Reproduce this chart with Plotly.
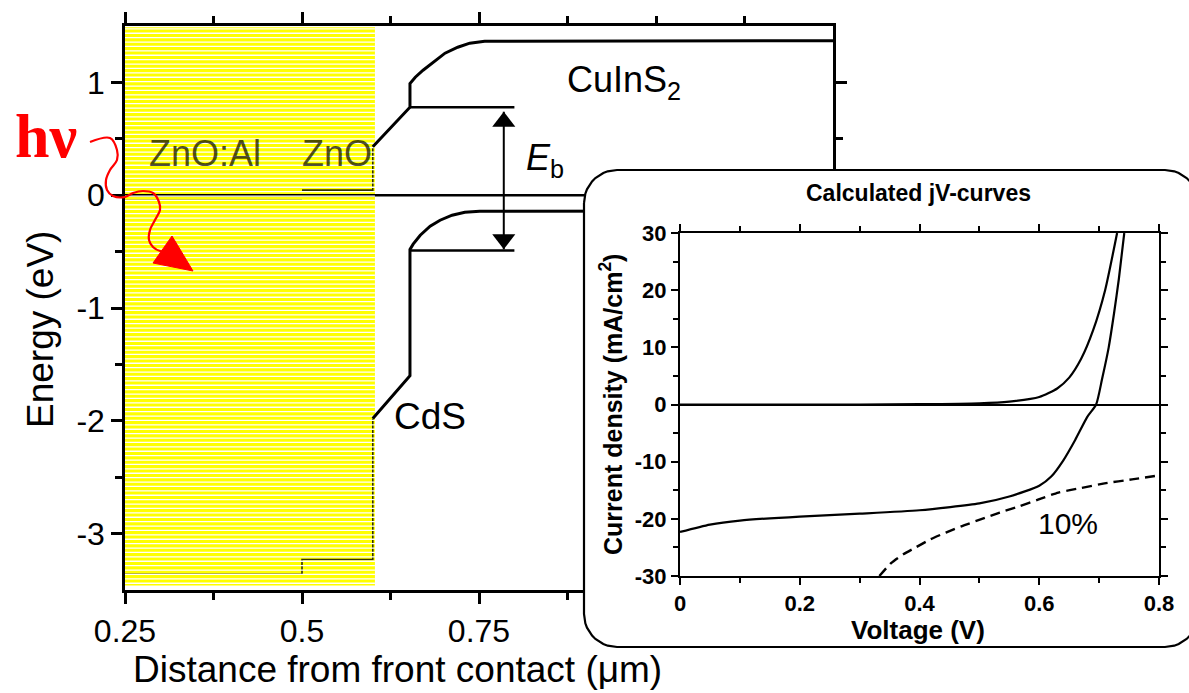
import numpy as np
import plotly.graph_objects as go

W, H = 1189, 693
FONT = "Liberation Sans, Arial, Helvetica, sans-serif"

# ---------------- band diagram (main plot) ----------------
x_range = [0.25, 1.25]
E_range = [-3.5, 1.5]
x_tick_vals = [0.25, 0.5, 0.75]
x_tick_text = ["0.25", "0.5", "0.75"]
x_minor_vals = [0.375, 0.625, 0.875, 1.0, 1.125]
E_tick_vals = [-3, -2, -1, 0, 1]
E_tick_text = ["-3", "-2", "-1", "0", "1"]
E_minor_vals = [-2.5, -1.5, -0.5, 0.5]

# conduction band (CdS -> CuInS2)
cb_x = [0.60, 0.6525, 0.6525, 0.66, 0.671, 0.685, 0.702, 0.720, 0.737, 0.758, 1.25]
cb_E = [0.43, 0.78, 0.99, 1.046, 1.108, 1.179, 1.259, 1.312, 1.348, 1.365, 1.37]
# valence band
vb_x = [0.60, 0.6525, 0.6525, 0.657, 0.667, 0.681, 0.695, 0.712, 0.730, 0.751, 1.25]
vb_E = [-1.98, -1.60, -0.48, -0.434, -0.355, -0.275, -0.222, -0.177, -0.151, -0.142, -0.14]
# Fermi level
fermi_x = [0.25, 1.25]
fermi_E = [0.0, 0.0]
# ZnO:Al / ZnO bands (under the yellow overlay)
znoal_cb_x = [0.25, 0.50]
znoal_cb_E = [-0.045, -0.045]
zno_cb_x = [0.50, 0.60, 0.60]
zno_cb_E = [0.045, 0.045, 0.43]
znoal_vb_x = [0.25, 0.50]
znoal_vb_E = [-3.36, -3.36]
zno_vb_x = [0.50, 0.50, 0.60, 0.60]
zno_vb_E = [-3.36, -3.23, -3.23, -1.98]
# E_b marker lines and arrow
eb_x = [0.6525, 0.80]
eb_top = 0.78
eb_bot = -0.49
arrow_x = 0.785
arrow_tip_top = 0.74
arrow_tip_bot = -0.48
# yellow overlay block
yellow_x = [0.25, 0.603, 0.603, 0.25, 0.25]
yellow_E = [1.49, 1.49, -3.46, -3.46, 1.49]

# ---------------- inset jV curves ----------------
V_range = [0, 0.8]
J_range = [-30, 30]
V_tick_vals = [0, 0.2, 0.4, 0.6, 0.8]
V_tick_text = ["0", "0.2", "0.4", "0.6", "0.8"]
V_minor_vals = [0.1, 0.3, 0.5, 0.7]
J_tick_vals = [-30, -20, -10, 0, 10, 20, 30]
J_tick_text = ["-30", "-20", "-10", "0", "10", "20", "30"]
J_minor_vals = [-25, -15, -5, 5, 15, 25]

V_dark = [0, 0.1, 0.2, 0.3, 0.4, 0.5, 0.55, 0.6, 0.63, 0.65, 0.67, 0.69, 0.71, 0.73]
J_dark = [0, 0, 0, 0, 0.05, 0.2, 0.5, 1.3, 2.8, 4.7, 8, 13, 20, 30]
V_light = [0, 0.05, 0.1, 0.2, 0.3, 0.4, 0.5, 0.55, 0.6, 0.62, 0.64, 0.66, 0.68, 0.695,
           0.705, 0.716, 0.725, 0.733, 0.742]
J_light = [-22.3, -21.0, -20.3, -19.6, -19.1, -18.5, -17.3, -16.1, -14.2, -12.6, -9.8, -6.2,
           -2.2, 0, 4.5, 10, 16, 22, 30]
V_dash = [0.333, 0.353, 0.373, 0.392, 0.418, 0.444, 0.47, 0.502, 0.534, 0.567, 0.599,
          0.632, 0.67, 0.709, 0.755, 0.8]
J_dash = [-30, -27.7, -26.2, -25.1, -23.6, -22.4, -21.3, -20.1, -18.9, -17.8, -16.6,
          -15.4, -14.6, -13.8, -13.1, -12.4]

# ---------------- layout geometry (pixels) ----------------
main_px = dict(left=125, right=833, top=26, bottom=590)
inset_px = dict(left=680, right=1159, top=233, bottom=576)
box_px = dict(left=584, right=1198, top=170, bottom=647, r=33)

px_per_eV = (main_px["bottom"] - main_px["top"]) / (E_range[1] - E_range[0])
head_px = 20
stripe_px = 4.4

fig = go.Figure()

def line(x, y, width=3, color="black", axes=("x", "y"), dash="solid", shape="linear"):
    fig.add_trace(go.Scatter(x=x, y=y, mode="lines", line=dict(width=width, color=color, dash=dash, shape=shape),
                             hoverinfo="skip", showlegend=False, xaxis=axes[0], yaxis=axes[1]))

# yellow block
fig.add_trace(go.Scatter(x=yellow_x, y=yellow_E, mode="lines", fill="toself",
                         line=dict(width=0, color="#ffff00"), fillcolor="#ffff00",
                         hoverinfo="skip", showlegend=False))
# bands inside yellow
line(znoal_cb_x, znoal_cb_E, width=1.5, color="rgba(60,60,60,0.6)")
line(zno_cb_x, zno_cb_E, width=1.6, color="rgba(0,0,0,0.8)")
line(znoal_vb_x, znoal_vb_E, width=1.5, color="rgba(0,0,0,0.75)")
line(zno_vb_x, zno_vb_E, width=1.6, color="rgba(0,0,0,0.8)")
line(fermi_x, fermi_E, width=2.5)
# white scan stripes across the yellow block
s_levels = np.arange(min(yellow_E) + 0.02, max(yellow_E), stripe_px / px_per_eV)
sx, sy = [], []
for e in s_levels:
    sx += [min(yellow_x), max(yellow_x), None]
    sy += [e, e, None]
fig.add_trace(go.Scatter(x=sx, y=sy, mode="lines", line=dict(color="white", width=1.3),
                         hoverinfo="skip", showlegend=False))
# main bands
line(cb_x, cb_E, width=3)
line(vb_x, vb_E, width=3)
line(eb_x, [eb_top, eb_top], width=2.5)
line(eb_x, [eb_bot, eb_bot], width=2.5)
line([arrow_x, arrow_x], [arrow_tip_top, arrow_tip_bot], width=2)
fig.add_trace(go.Scatter(
    x=[arrow_x, arrow_x],
    y=[arrow_tip_top - (head_px / 2) / px_per_eV, arrow_tip_bot + (head_px / 2) / px_per_eV],
    mode="markers", marker=dict(symbol=["triangle-up", "triangle-down"], size=head_px, color="black"),
    hoverinfo="skip", showlegend=False))

# ---- overlay (pixel coordinates): inset box, photon squiggle ----
t = np.linspace(0, np.pi / 2, 12)
L, R, T, B, r = box_px["left"], box_px["right"], box_px["top"], box_px["bottom"], box_px["r"]
bx = np.concatenate([L + r - r * np.cos(t), R - r + r * np.sin(t), R - r + r * np.cos(t), L + r - r * np.sin(t), [L]])
by = np.concatenate([T + r - r * np.sin(t), T + r - r * np.cos(t), B - r + r * np.sin(t), B - r + r * np.cos(t), [T + r]])
fig.add_trace(go.Scatter(x=bx, y=by, mode="lines", fill="toself", fillcolor="white",
                         line=dict(color="black", width=2.2), hoverinfo="skip", showlegend=False,
                         xaxis="x2", yaxis="y2"))

wave_x = [90, 110, 117, 117, 110, 106, 107, 113, 125, 133, 143, 153, 159, 160, 155, 150, 149, 153, 160, 167]
wave_y = [142, 138, 150, 160, 170, 180, 190, 196, 197, 193, 191, 193, 202, 210, 220, 230, 240, 247, 251, 251]
line(wave_x, wave_y, width=2.2, color="#ff0000", axes=("x2", "y2"), shape="spline")
head_x = [153, 172, 193, 153]
head_y = [263, 236, 271, 263]
fig.add_trace(go.Scatter(x=head_x, y=head_y, mode="lines", fill="toself", fillcolor="#ff0000",
                         line=dict(color="#ff0000", width=1), hoverinfo="skip", showlegend=False,
                         xaxis="x2", yaxis="y2"))

# ---- inset curves ----
fig.add_trace(go.Scatter(x=V_dark, y=J_dark, mode="lines", line=dict(color="black", width=2.2, shape="spline", smoothing=0.6),
                         hoverinfo="skip", showlegend=False, xaxis="x3", yaxis="y3"))
fig.add_trace(go.Scatter(x=V_light, y=J_light, mode="lines", line=dict(color="black", width=2.2, shape="spline", smoothing=0.6),
                         hoverinfo="skip", showlegend=False, xaxis="x3", yaxis="y3"))
fig.add_trace(go.Scatter(x=V_dash, y=J_dash, mode="lines", line=dict(color="black", width=2.4, dash="10px,6px", shape="spline", smoothing=0.6),
                         hoverinfo="skip", showlegend=False, xaxis="x3", yaxis="y3"))

def ax_common(lw, tl, fs, weight="normal"):
    return dict(showline=True, linecolor="black", linewidth=lw, mirror="ticks", ticks="outside",
                ticklen=tl, tickwidth=lw, tickcolor="black", showgrid=False, automargin=False,
                tickfont=dict(family=FONT, size=fs, color="black", weight=weight))

fig.update_layout(
    width=W, height=H, margin=dict(l=0, r=0, t=0, b=0, pad=0, autoexpand=False),
    paper_bgcolor="white", plot_bgcolor="rgba(0,0,0,0)", showlegend=False,
    xaxis=dict(domain=[main_px["left"] / W, main_px["right"] / W], range=x_range, anchor="y",
               tickmode="array", tickvals=x_tick_vals, ticktext=x_tick_text, zeroline=False,
               minor=dict(tickvals=x_minor_vals, ticks="outside", ticklen=7, tickwidth=2.5, tickcolor="black"),
               **ax_common(2.5, 11, 32)),
    yaxis=dict(domain=[1 - main_px["bottom"] / H, 1 - main_px["top"] / H], range=E_range, anchor="x",
               tickmode="array", tickvals=E_tick_vals, ticktext=E_tick_text, zeroline=False,
               minor=dict(tickvals=E_minor_vals, ticks="outside", ticklen=7, tickwidth=2.5, tickcolor="black"),
               **ax_common(2.5, 11, 32)),
    xaxis2=dict(domain=[0, 1], range=[0, W], visible=False, anchor="y2", fixedrange=True, automargin=False),
    yaxis2=dict(domain=[0, 1], range=[H, 0], visible=False, anchor="x2", fixedrange=True, automargin=False),
    xaxis3=dict(domain=[inset_px["left"] / W, inset_px["right"] / W], range=V_range, anchor="y3",
                tickmode="array", tickvals=V_tick_vals, ticktext=V_tick_text, zeroline=False,
                minor=dict(tickvals=V_minor_vals, ticks="outside", ticklen=5, tickwidth=2, tickcolor="black"),
                **ax_common(2, 7, 22, "bold")),
    yaxis3=dict(domain=[1 - inset_px["bottom"] / H, 1 - inset_px["top"] / H], range=J_range, anchor="x3",
                tickmode="array", tickvals=J_tick_vals, ticktext=J_tick_text,
                zeroline=True, zerolinecolor="black", zerolinewidth=2,
                minor=dict(tickvals=J_minor_vals, ticks="outside", ticklen=5, tickwidth=2, tickcolor="black"),
                **ax_common(2, 7, 22, "bold")),
)

def note(text, x, y, size, angle=0, color="black", family=FONT, xanchor="center"):
    fig.add_annotation(text=text, x=x, y=y, xref="x2", yref="y2", showarrow=False,
                       font=dict(family=family, size=size, color=color), textangle=angle,
                       xanchor=xanchor, yanchor="middle")

note("<b>hν</b>", 46, 136, 62, color="#ff0000", family="Liberation Serif, Times New Roman, serif")
note("ZnO:Al", 205, 153, 36, color="rgba(0,0,0,0.7)")
note("ZnO", 337, 153, 36, color="rgba(0,0,0,0.7)")
note("CuInS<sub>2</sub>", 624, 82, 36)
note("<i>E</i><sub>b</sub>", 545, 160, 36)
note("CdS", 430, 416, 37)
note("Energy (eV)", 40, 330, 37, angle=-90)
note("Distance from front contact (μm)", 397, 669, 37)
note("<b>Calculated jV-curves</b>", 918, 193, 23)
note("<b>Current density (mA/cm<sup>2</sup>)</b>", 611, 405, 25, angle=-90)
note("<b>Voltage (V)</b>", 918, 630, 26)
note("10%", 1068, 523, 30)

fig.write_html("out.html")
